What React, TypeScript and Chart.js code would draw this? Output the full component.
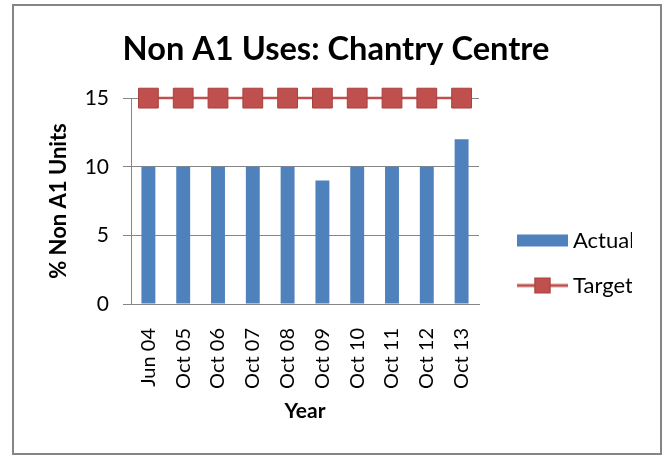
import React, { useEffect, useRef } from "react";
import { Chart, registerables } from "chart.js";

Chart.register(...registerables);

const categories = ["Jun 04", "Oct 05", "Oct 06", "Oct 07", "Oct 08", "Oct 09", "Oct 10", "Oct 11", "Oct 12", "Oct 13"];
const actualValues = [10, 10, 10, 10, 10, 9, 10, 10, 10, 12];
const targetValues = [15, 15, 15, 15, 15, 15, 15, 15, 15, 15];
const yTickValues = [0, 5, 10, 15];

const BAR_COLOR = "#4F81BD";
const TARGET_COLOR = "#C0504D";
const TARGET_BORDER = "#A9413E";
const FONT = "Lato, 'Liberation Sans', sans-serif";
const PAD_RIGHT = 36;
const LEGEND_WIDTH = 189 - PAD_RIGHT;

function makeIcon(kind: "bar" | "line"): HTMLCanvasElement {
  const c = document.createElement("canvas");
  c.width = 74;
  c.height = 22;
  const ctx = c.getContext("2d")!;
  const x0 = 22;
  const w = 51;
  if (kind === "bar") {
    ctx.fillStyle = BAR_COLOR;
    ctx.fillRect(x0, 5, w, 12);
  } else {
    ctx.strokeStyle = TARGET_COLOR;
    ctx.lineWidth = 3;
    ctx.beginPath();
    ctx.moveTo(x0, 11);
    ctx.lineTo(x0 + w, 11);
    ctx.stroke();
    ctx.fillStyle = TARGET_COLOR;
    ctx.fillRect(x0 + w / 2 - 8, 3, 16, 16);
    ctx.strokeStyle = TARGET_BORDER;
    ctx.lineWidth = 1;
    ctx.strokeRect(x0 + w / 2 - 7.5, 3.5, 15, 15);
  }
  return c;
}

const legendWidthPlugin = {
  id: "legendWidth",
  beforeUpdate(chart: any) {
    const lg = chart.legend;
    if (lg && !lg.__wrapped) {
      const orig = lg.fit;
      lg.fit = function (this: any) {
        orig.call(this);
        this.width = LEGEND_WIDTH;
      };
      lg.__wrapped = true;
    }
  },
};

export default function App() {
  const ref = useRef<HTMLCanvasElement | null>(null);

  useEffect(() => {
    if (!ref.current) return;
    const barIcon = makeIcon("bar");
    const lineIcon = makeIcon("line");
    const chart = new Chart(ref.current, {
      type: "bar",
      plugins: [legendWidthPlugin],
      data: {
        labels: categories,
        datasets: [
          {
            type: "bar",
            label: "Actual",
            data: actualValues,
            backgroundColor: BAR_COLOR,
            barPercentage: 0.4,
            categoryPercentage: 1.0,
            order: 2,
          },
          {
            type: "line",
            label: "Target",
            data: targetValues,
            borderColor: TARGET_COLOR,
            borderWidth: 2.5,
            backgroundColor: TARGET_COLOR,
            pointStyle: "rect",
            pointRadius: 14,
            pointBorderColor: TARGET_BORDER,
            pointBorderWidth: 1,
            pointBackgroundColor: TARGET_COLOR,
            clip: false,
            order: 1,
          } as any,
        ],
      },
      options: {
        responsive: false,
        animation: false,
        layout: { padding: { left: 40, right: PAD_RIGHT, top: 0, bottom: 30 } },
        plugins: {
          title: {
            display: true,
            text: "Non A1 Uses: Chantry Centre",
            color: "#000",
            font: { family: FONT, size: 32.6, weight: "bold" },
            padding: { top: 30, bottom: 29 },
          },
          legend: {
            display: true,
            position: "right",
            align: "center",
            title: { display: true, text: "", font: { size: 10 }, padding: { top: 86, bottom: 0 } },
            labels: {
              usePointStyle: true,
              pointStyleWidth: 60,
              padding: 23,
              color: "#000",
              font: { family: FONT, size: 22 },
              generateLabels: (ch: any) =>
                ch.data.datasets.map((ds: any, i: number) => ({
                  text: ds.label,
                  pointStyle: i === 0 ? barIcon : lineIcon,
                  fillStyle: "transparent",
                  strokeStyle: "transparent",
                  lineWidth: 0,
                  hidden: false,
                  datasetIndex: i,
                  fontColor: "#000",
                })),
            },
          },
          tooltip: { enabled: false },
        },
        scales: {
          x: {
            grid: { display: false },
            border: { display: true, color: "#868686", width: 1 },
            ticks: {
              color: "#000",
              font: { family: FONT, size: 20 },
              minRotation: 90,
              maxRotation: 90,
              autoSkip: false,
              padding: 16,
            },
            title: {
              display: true,
              text: "Year",
              color: "#000",
              font: { family: FONT, size: 21, weight: "bold" },
              padding: { top: 0, bottom: 4 },
            },
            afterFit: (s: any) => {
              s.height = 124;
            },
          },
          y: {
            min: 0,
            max: 15,
            afterBuildTicks: (s: any) => {
              s.ticks = yTickValues.map((v) => ({ value: v }));
            },
            grid: {
              color: "#868686",
              lineWidth: 1,
              drawTicks: true,
              tickLength: 8,
            },
            border: { display: true, color: "#868686", width: 1 },
            ticks: {
              color: "#000",
              font: { family: FONT, size: 21 },
              padding: 14,
            },
            title: {
              display: true,
              text: "% Non A1 Units",
              color: "#000",
              font: { family: FONT, size: 22, weight: "bold" },
              padding: { top: 6, bottom: 0 },
            },
            afterFit: (s: any) => {
              s.width = 91;
            },
          },
        },
      },
    });
    return () => chart.destroy();
  }, []);

  return (
    <div style={{ position: "absolute", left: 0, top: 0, width: 668, height: 458, background: "#fff" }}>
      <div
        style={{
          position: "absolute",
          left: 12,
          top: 4,
          width: 646,
          height: 447,
          border: "2px solid #858585",
        }}
      />
      <canvas ref={ref} width={668} height={458} style={{ position: "absolute", left: 0, top: 0 }} />
    </div>
  );
}
